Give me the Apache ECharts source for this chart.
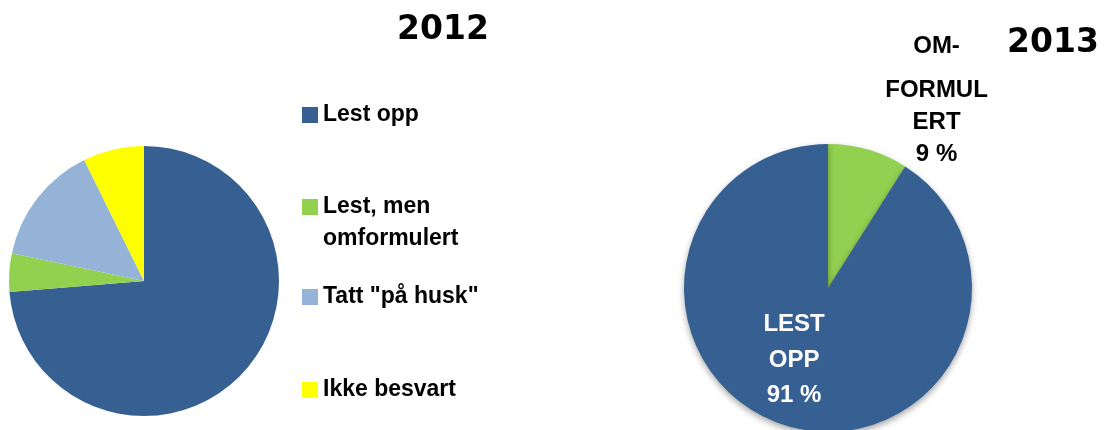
<!DOCTYPE html>
<html>
<head>
<meta charset="utf-8">
<style>
  html, body { margin: 0; padding: 0; background: #ffffff; }
  #chart { width: 1105px; height: 430px; }
</style>
<script src="https://cdn.jsdelivr.net/npm/echarts@6/dist/echarts.min.js"></script>
</head>
<body>
<div id="chart"></div>
<script>
// 2012: share of answers, in per cent
const categories2012 = ['Lest opp', 'Lest, men\nomformulert', 'Tatt "på husk"', 'Ikke besvart'];
const values2012 = [73.7, 4.6, 14.4, 7.3];
const colors2012 = ['#376092', '#92D050', '#95B3D7', '#FFFF00'];

// 2013: share of answers, in per cent
const categories2013 = ['OM-\nFORMUL\nERT', 'LEST\nOPP'];
const values2013 = [9, 91];
const colors2013 = ['#92D050', '#376092'];

const titles = ['2012', '2013'];

const FONT = 'Liberation Sans';

const chart = echarts.init(document.getElementById('chart'), null, { renderer: 'canvas' });

// one legend block per entry so every row can sit at its own height;
// a two-line entry gets a tall icon whose square sits at the top,
// so the marker lines up with the first line of its text
const legendTops = [99, 191, 281, 374];
const legends = categories2012.map((name, i) => {
  const lineCount = name.split('\n').length;
  const tall = lineCount > 1;
  const h = 16 + (lineCount - 1) * 32;
  return {
    orient: 'vertical',
    left: 302,
    top: legendTops[i],
    padding: 0,
    itemWidth: 16,
    itemHeight: tall ? h : 16,
    itemGap: 5,
    icon: tall ? 'path://M0 0H16V16H0Z M0 ' + h + 'L16 ' + h : 'rect',
    selectedMode: false,
    data: [name],
    textStyle: {
      fontFamily: FONT,
      fontWeight: 'bold',
      fontSize: 23,
      lineHeight: 32,
      color: '#000000'
    }
  };
});

const titleStyle = {
  fontFamily: 'DejaVu Sans',
  fontWeight: 'bold',
  fontSize: 33,
  lineHeight: 33,
  color: '#000000'
};

const option = {
  animation: false,
  backgroundColor: '#ffffff',
  title: [
    { text: titles[0], left: 397, top: 14, padding: 0, textStyle: titleStyle },
    { text: titles[1], left: 1007, top: 27, padding: 0, textStyle: titleStyle }
  ],
  legend: legends,
  series: [
    {
      name: titles[0],
      type: 'pie',
      center: [144, 281],
      radius: 135,
      startAngle: 90,
      clockwise: true,
      label: { show: false },
      labelLine: { show: false },
      emphasis: { disabled: true },
      data: categories2012.map((name, i) => ({
        name: name,
        value: values2012[i],
        itemStyle: { color: colors2012[i] }
      }))
    },
    {
      name: titles[1],
      type: 'pie',
      center: [828, 288],
      radius: 144,
      startAngle: 90,
      clockwise: true,
      avoidLabelOverlap: false,
      emphasis: { disabled: true },
      itemStyle: {
        shadowBlur: 6,
        shadowOffsetX: 0,
        shadowOffsetY: 3,
        shadowColor: 'rgba(0,0,0,0.35)'
      },
      data: [
        {
          name: categories2013[0],
          value: values2013[0],
          itemStyle: { color: colors2013[0] },
          label: {
            show: true,
            position: 'outside',
            distanceToLabelLine: 1,
            formatter: p => {
              const lines = p.name.split('\n').concat([Math.round(p.percent) + ' %']);
              return lines.map((t, i) => (i === 0 ? '{a|' : '{c|') + t + '}').join('\n');
            },
            rich: {
              a: { align: 'center', fontFamily: FONT, fontWeight: 'bold', fontSize: 24, lineHeight: 55, color: '#000000' },
              c: { align: 'center', fontFamily: FONT, fontWeight: 'bold', fontSize: 24, lineHeight: 32, color: '#000000' }
            }
          },
          labelLine: { show: false, length: 57.5, length2: 0 }
        },
        {
          name: categories2013[1],
          value: values2013[1],
          itemStyle: { color: colors2013[1] },
          label: {
            show: true,
            position: 'inside',
            formatter: p => p.name + '\n' + Math.round(p.percent) + ' %',
            fontFamily: FONT,
            fontWeight: 'bold',
            fontSize: 24,
            lineHeight: 35.5,
            color: '#ffffff',
            align: 'center',
            verticalAlign: 'middle',
            padding: [0, 26, 10, 0]
          },
          labelLine: { show: false }
        }
      ]
    }
  ]
};

chart.setOption(option);
</script>
</body>
</html>
